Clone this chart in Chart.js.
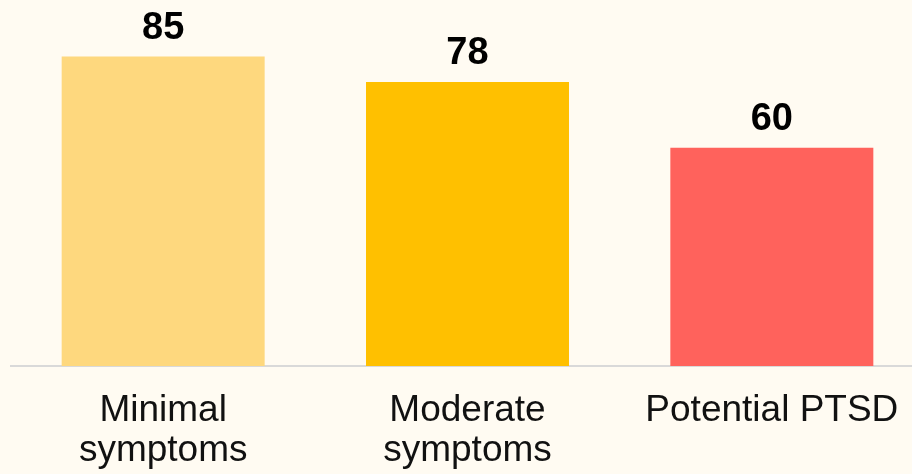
<!DOCTYPE html>
<html>
<head>
<meta charset="utf-8">
<script src="https://cdn.jsdelivr.net/npm/chart.js@4"></script>
<style>
  html, body { margin: 0; padding: 0; background: #FFFBF2; overflow: hidden; }
  #wrap { width: 924px; height: 488px; position: relative; }
</style>
</head>
<body>
<div id="wrap"><canvas id="chart"></canvas></div>
<script>
// datos del gráfico
const categories = [['Minimal', 'symptoms'], ['Moderate', 'symptoms'], 'Potential PTSD'];
const values = [85, 78, 60];
const barColors = ['#FED87E', '#FFC000', '#FF625C'];

// etiquetas de valor encima de cada barra
const valueLabels = {
    id: 'valueLabels',
    afterDatasetsDraw(chart) {
        const ctx = chart.ctx;
        const meta = chart.getDatasetMeta(0);
        ctx.save();
        ctx.font = 'bold 38px "Liberation Sans", Arial, sans-serif';
        ctx.fillStyle = '#000';
        ctx.textAlign = 'center';
        ctx.textBaseline = 'alphabetic';
        meta.data.forEach((bar, i) => {
            ctx.fillText(String(values[i]), bar.x, bar.y - 18);
        });
        ctx.restore();
    }
};

const ctx = document.getElementById('chart').getContext('2d');
new Chart(ctx, {
    type: 'bar',
    data: {
        labels: categories,
        datasets: [{
            data: values,
            backgroundColor: barColors,
            borderWidth: 0,
            categoryPercentage: 1,
            barPercentage: 0.667
        }]
    },
    options: {
        responsive: true,
        maintainAspectRatio: false,
        animation: false,
        layout: { padding: { left: 11, right: 0, top: 2, bottom: 0 } },
        plugins: { legend: { display: false }, tooltip: { enabled: false } },
        scales: {
            x: {
                grid: { display: false },
                border: { color: '#D9D9D9', width: 2 },
                ticks: {
                    color: '#111',
                    font: { family: '"Liberation Sans", Arial, sans-serif', size: 37, lineHeight: 1.08 },
                    maxRotation: 0,
                    autoSkip: false,
                    padding: 17
                }
            },
            y: {
                display: false,
                min: 0,
                max: 100
            }
        }
    },
    plugins: [valueLabels]
});
</script>
</body>
</html>
